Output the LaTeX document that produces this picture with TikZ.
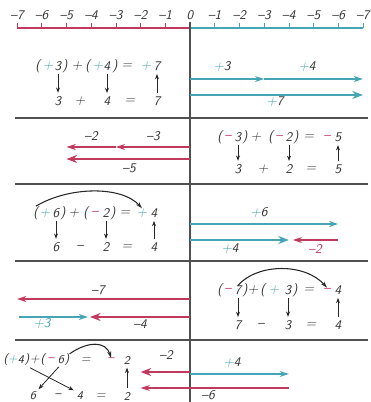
\documentclass[tikz,border=0pt]{standalone}
\usepackage{tikz}
\usepackage{xcolor}
\usetikzlibrary{arrows.meta, positioning}
\definecolor{posteal}{HTML}{45A5B5}
\definecolor{negred}{HTML}{C2395E}
\definecolor{rulegray}{HTML}{505050}
\newcommand{\pls}{\textcolor{posteal}{+}}
\newcommand{\mns}{\textcolor{negred}{\textendash}}
\newcommand{\unitpx}{24.71}

\begin{document}
\begin{tikzpicture}[x=0.0265cm, y=-0.0265cm,
        eq/.style={font=\sffamily\itshape, text=black!80, inner sep=0pt},
        eqs/.style={font=\sffamily\itshape\fontsize{9}{11}\selectfont, text=black!80, inner sep=0pt},
        lbl/.style={font=\sffamily\itshape, text=black!80, inner sep=0pt},
        eqarr/.style={-{Stealth[length=4pt, width=3pt]}, line width=0.6pt, black!85, shorten <=2.5pt, shorten >=2.5pt},
        swoosh/.style={-{Stealth[length=5pt, width=3pt]}, line width=0.8pt, black!85},
        posthin/.style={-{Stealth[length=7pt, width=4.5pt]}, line width=1pt, posteal},
        posthick/.style={-{Stealth[length=8pt, width=6pt]}, line width=2.2pt, posteal},
        negthin/.style={-{Stealth[length=7pt, width=4.5pt]}, line width=1pt, negred},
        negthick/.style={-{Stealth[length=8pt, width=6pt]}, line width=2.2pt, negred},
        sep/.style={rulegray, line width=0.8pt}
    ]
    \useasboundingbox (0,0) rectangle (370,402);

    % number line
    \coordinate (o) at (190,28);
    \coordinate (vtop) at (190,22);
    \coordinate (vbot) at (190,402);
    \foreach \i in {1,...,7} {
        \coordinate (l\i) at ({190-\i*\unitpx},28);
        \coordinate (r\i) at ({190+\i*\unitpx},28);
        \draw[negred, line width=0.5pt] (l\i) -- ++(0,-5);
        \draw[posteal, line width=0.5pt] (r\i) -- ++(0,-5);
        \node[lbl, above=6pt of l\i] (tl\i) {\textendash\i};
        \node[lbl, above=6pt of r\i] (tr\i) {\textendash\i};
    }
    \node[lbl, above=6pt of o] (t0) {0};
    \draw[negred, line width=0.8pt] (l7) -- (o);
    \draw[posteal, line width=0.8pt] (o) -- (r7);
    \draw[rulegray, line width=0.8pt] (vtop) -- (vbot);
    \foreach \y in {118,184,261,340}
        \draw[sep] (15,\y) -- (368,\y);

    % (+3) + (+4) = +7
    \foreach \x/\t/\n in {38/(/a, 48/\pls/b, 58/3/c, 65/)/d, 77/+/e, 88/(/f, 98/\pls/g, 107/4/h, 115/)/i, 127/=/j, 146/\pls/k, 157/7/l}
        \node[eq] (ea\n) at (\x,66) {\t};
    \foreach \x/\t/\n in {58/3/a, 80/+/b, 107/4/c, 130/=/d, 157/7/e}
        \node[eq] (fa\n) at (\x,101) {\t};
    \draw[eqarr] (eac) -- (faa);
    \draw[eqarr] (eah) -- (fac);
    \draw[eqarr] (fae) -- (eal);
    \coordinate (a1s) at (190,79);
    \coordinate (a1m) at ({190+3*\unitpx},79);
    \coordinate (a1e) at ({190+7*\unitpx},79);
    \coordinate (b1s) at (190,95);
    \coordinate (b1e) at ({190+7*\unitpx},95);
    \draw[posthin] (a1s) -- (a1m);
    \draw[posthin] (a1m) -- (a1e);
    \draw[posthick] (b1s) -- (b1e);
    \node[lbl] (la1) at (222,67) {\pls3};
    \node[lbl] (lb1) at (307,67) {\pls4};
    \node[lbl] (lc1) at (275,102) {\pls7};

    % (-3) + (-2) = -5
    \foreach \x/\t/\n in {220/(/a, 228/\mns/b, 238/3/c, 245/)/d, 256/+/e, 271/(/f, 279/\mns/g, 289/2/h, 296/)/i, 309/=/j, 327/\mns/k, 338/5/l}
        \node[eq] (eb\n) at (\x,137) {\t};
    \foreach \x/\t/\n in {238/3/a, 263/+/b, 289/2/c, 311/=/d, 338/5/e}
        \node[eq] (fb\n) at (\x,169) {\t};
    \draw[eqarr] (ebc) -- (fba);
    \draw[eqarr] (ebh) -- (fbc);
    \draw[eqarr] (fbe) -- (ebl);
    \coordinate (a2s) at (190,147);
    \coordinate (a2m) at ({190-3*\unitpx},147);
    \coordinate (a2e) at ({190-5*\unitpx},147);
    \coordinate (b2s) at (190,159);
    \coordinate (b2e) at ({190-5*\unitpx},159);
    \draw[negthin] (a2s) -- (a2m);
    \draw[negthin] (a2m) -- (a2e);
    \draw[negthick] (b2s) -- (b2e);
    \node[lbl] (la2) at (91,136) {\textendash2};
    \node[lbl] (lb2) at (153,136) {\textendash3};
    \node[lbl] (lc2) at (129,168) {\textendash5};

    % (+6) + (-2) = +4
    \foreach \x/\t/\n in {36/(/a, 45/\pls/b, 56/6/c, 63/)/d, 74/+/e, 86/(/f, 95/\mns/g, 106/2/h, 113/)/i, 125/=/j, 142/\pls/k, 154/4/l}
        \node[eq] (ec\n) at (\x,213) {\t};
    \foreach \x/\t/\n in {56/6/a, 80/\textendash/b, 106/2/c, 127/=/d, 154/4/e}
        \node[eq] (fc\n) at (\x,247) {\t};
    \draw[eqarr] (ecc) -- (fca);
    \draw[eqarr] (ech) -- (fcc);
    \draw[eqarr] (fce) -- (ecl);
    \draw[swoosh] (eca.north) .. controls (70,186) and (122,186) .. (eck.north);
    \coordinate (a3s) at (190,224);
    \coordinate (a3e) at ({190+6*\unitpx},224);
    \coordinate (b3s) at (190,240);
    \coordinate (b3e) at ({190+4*\unitpx},240);
    \coordinate (c3s) at ({190+6*\unitpx},240);
    \coordinate (c3e) at ({190+4*\unitpx+4},240);
    \draw[posthin] (a3s) -- (a3e);
    \draw[posthick] (b3s) -- (b3e);
    \draw[negthin] (c3s) -- (c3e);
    \node[lbl] (la3) at (259,213) {\pls6};
    \node[lbl] (lb3) at (230,249) {\pls4};
    \node[lbl, text=negred] (lc3) at (315,249) {\textendash2};

    % (-7) + (+3) = -4
    \foreach \x/\t/\n in {220/(/a, 228/\mns/b, 238/7/c, 245/)/d, 253/+/e, 263/(/f, 274/\pls/g, 288/3/h, 295/)/i, 309/=/j, 327/\mns/k, 338/4/l}
        \node[eq] (ed\n) at (\x,290) {\t};
    \foreach \x/\t/\n in {238/7/a, 261/\textendash/b, 288/3/c, 311/=/d, 338/4/e}
        \node[eq] (fd\n) at (\x,325) {\t};
    \draw[eqarr] (edc) -- (fda);
    \draw[eqarr] (edh) -- (fdc);
    \draw[eqarr] (fde) -- (edl);
    \draw[swoosh] (edc.north) .. controls (258,263) and (305,263) .. (edk.north);
    \coordinate (a4s) at (190,299);
    \coordinate (a4e) at ({190-7*\unitpx},299);
    \coordinate (b4s) at ({190-7*\unitpx+2},317);
    \coordinate (b4e) at (88,317);
    \coordinate (c4s) at (190,317);
    \coordinate (c4e) at (90,317);
    \draw[negthin] (a4s) -- (a4e);
    \draw[negthick] (c4s) -- (c4e);
    \draw[posthin] (b4s) -- (b4e);
    \node[lbl] (la4) at (98,290) {\textendash7};
    \node[lbl, text=posteal] (lb4) at (42,324) {+3};
    \node[lbl] (lc4) at (140,324) {\textendash4};

    % (+4) + (-6) = -2
    \foreach \x/\t/\n in {6/(/a, 13/\pls/b, 21/4/c, 27/)/d, 35/+/e, 43/(/f, 51/\mns/g, 61/6/h, 67/)/i, 86/=/j, 111/\mns/k, 127/2/l}
        \node[eqs] (ee\n) at (\x,360) {\t};
    \foreach \x/\t/\n in {33/6/a, 58/\textendash/b, 80/4/c, 101/=/d, 127/2/e}
        \node[eqs] (fe\n) at (\x,396) {\t};
    \draw[eqarr] (eed.south) -- (fec.north west);
    \draw[eqarr] (eeh.south) -- (fea.north east);
    \draw[eqarr] (fee) -- (eel);
    \draw[swoosh] (eei.north east) .. controls (88,341) and (106,341) .. (eek.north);
    \coordinate (a5s) at (190,374);
    \coordinate (a5e) at ({190+4*\unitpx},374);
    \coordinate (b5s) at (190,372);
    \coordinate (b5e) at ({190-2*\unitpx},372);
    \coordinate (c5s) at ({190+4*\unitpx},388);
    \coordinate (c5e) at ({190-2*\unitpx},388);
    \draw[posthin] (a5s) -- (a5e);
    \draw[negthick] (b5s) -- (b5e);
    \draw[negthin] (c5s) -- (c5e);
    \node[lbl] (la5) at (166,355) {\textendash2};
    \node[lbl] (lb5) at (232,363) {\pls4};
    \node[lbl] (lc5) at (208,395) {\textendash6};
\end{tikzpicture}
\end{document}
